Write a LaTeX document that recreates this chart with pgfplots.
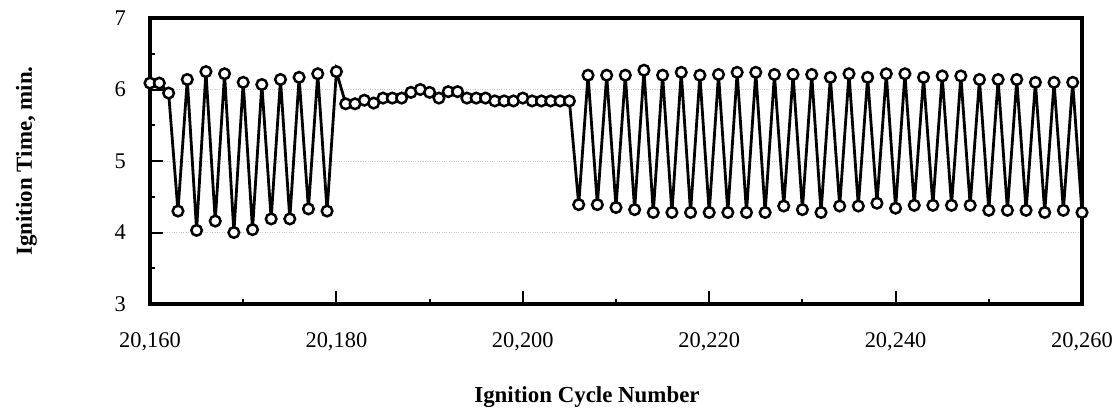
\documentclass[border=0pt]{standalone}
\usepackage{fontspec}
\setmainfont{Liberation Serif}
\usepackage{pgfplots}
\pgfplotsset{compat=1.18}
\begin{document}
\begin{tikzpicture}
\begin{axis}[
  scale only axis, width=932bp, height=286bp,
  xmin=20160, xmax=20260, ymin=3, ymax=7,
  scaled x ticks=false,
  axis line style={line width=3.2bp},
  xtick={20160,20180,...,20260},
  xticklabels={{20,160},{20,180},{20,200},{20,220},{20,240},{20,260}},
  minor xtick={20170,20190,...,20250},
  ytick={3,4,5,6,7},
  minor ytick={3.5,4.5,5.5,6.5},
  tick align=inside,
  tick pos=left,
  major tick length=13bp, minor tick length=5bp,
  every tick/.style={black, line width=2bp},
  ticklabel style={font=\fontsize{22.5}{26}\selectfont},
  xticklabel style={anchor=base, yshift=-43bp, inner sep=0pt},
  yticklabel style={anchor=east, xshift=-24bp, inner sep=0pt},
  ymajorgrids, major grid style={gray!40, dotted, line width=0.6bp},
  /pgf/number format/assume math mode=true,
  clip=false,
]
\addplot[black, line width=2.8bp, mark=*, mark size=5.3bp,
  mark options={solid, fill=white, draw=black, line width=2.5bp}] coordinates {
(20160,6.09)(20161,6.09)(20162,5.95)(20163,4.30)(20164,6.14)(20165,4.03)
(20166,6.25)(20167,4.16)(20168,6.22)(20169,4.00)(20170,6.10)(20171,4.04)
(20172,6.07)(20173,4.19)(20174,6.14)(20175,4.19)(20176,6.17)(20177,4.33)
(20178,6.22)(20179,4.30)(20180,6.25)(20181,5.80)(20182,5.80)(20183,5.85)
(20184,5.81)(20185,5.88)(20186,5.88)(20187,5.88)(20188,5.96)(20189,6.00)
(20190,5.96)(20191,5.88)(20192,5.97)(20193,5.97)(20194,5.88)(20195,5.88)
(20196,5.88)(20197,5.84)(20198,5.84)(20199,5.84)(20200,5.88)(20201,5.84)
(20202,5.84)(20203,5.84)(20204,5.84)(20205,5.84)(20206,4.39)(20207,6.20)
(20208,4.39)(20209,6.20)(20210,4.35)(20211,6.20)(20212,4.32)(20213,6.27)
(20214,4.28)(20215,6.20)(20216,4.28)(20217,6.24)(20218,4.28)(20219,6.20)
(20220,4.28)(20221,6.21)(20222,4.28)(20223,6.24)(20224,4.28)(20225,6.24)
(20226,4.28)(20227,6.21)(20228,4.37)(20229,6.21)(20230,4.32)(20231,6.21)
(20232,4.28)(20233,6.17)(20234,4.37)(20235,6.22)(20236,4.37)(20237,6.17)
(20238,4.41)(20239,6.22)(20240,4.34)(20241,6.22)(20242,4.38)(20243,6.17)
(20244,4.38)(20245,6.19)(20246,4.38)(20247,6.19)(20248,4.38)(20249,6.14)
(20250,4.31)(20251,6.14)(20252,4.31)(20253,6.14)(20254,4.31)(20255,6.10)
(20256,4.28)(20257,6.10)(20258,4.31)(20259,6.10)(20260,4.28)
};
\end{axis}
\node[rotate=90, anchor=base, font=\fontsize{23}{27}\selectfont\bfseries] at (-118bp,143bp) {Ignition Time, min.};
\node[anchor=base, font=\fontsize{23}{27}\selectfont\bfseries] at (437bp,-98bp) {Ignition Cycle Number};
\pgfresetboundingbox
\useasboundingbox (-150bp,-105bp) rectangle (967bp,304bp);
\end{tikzpicture}
\end{document}
